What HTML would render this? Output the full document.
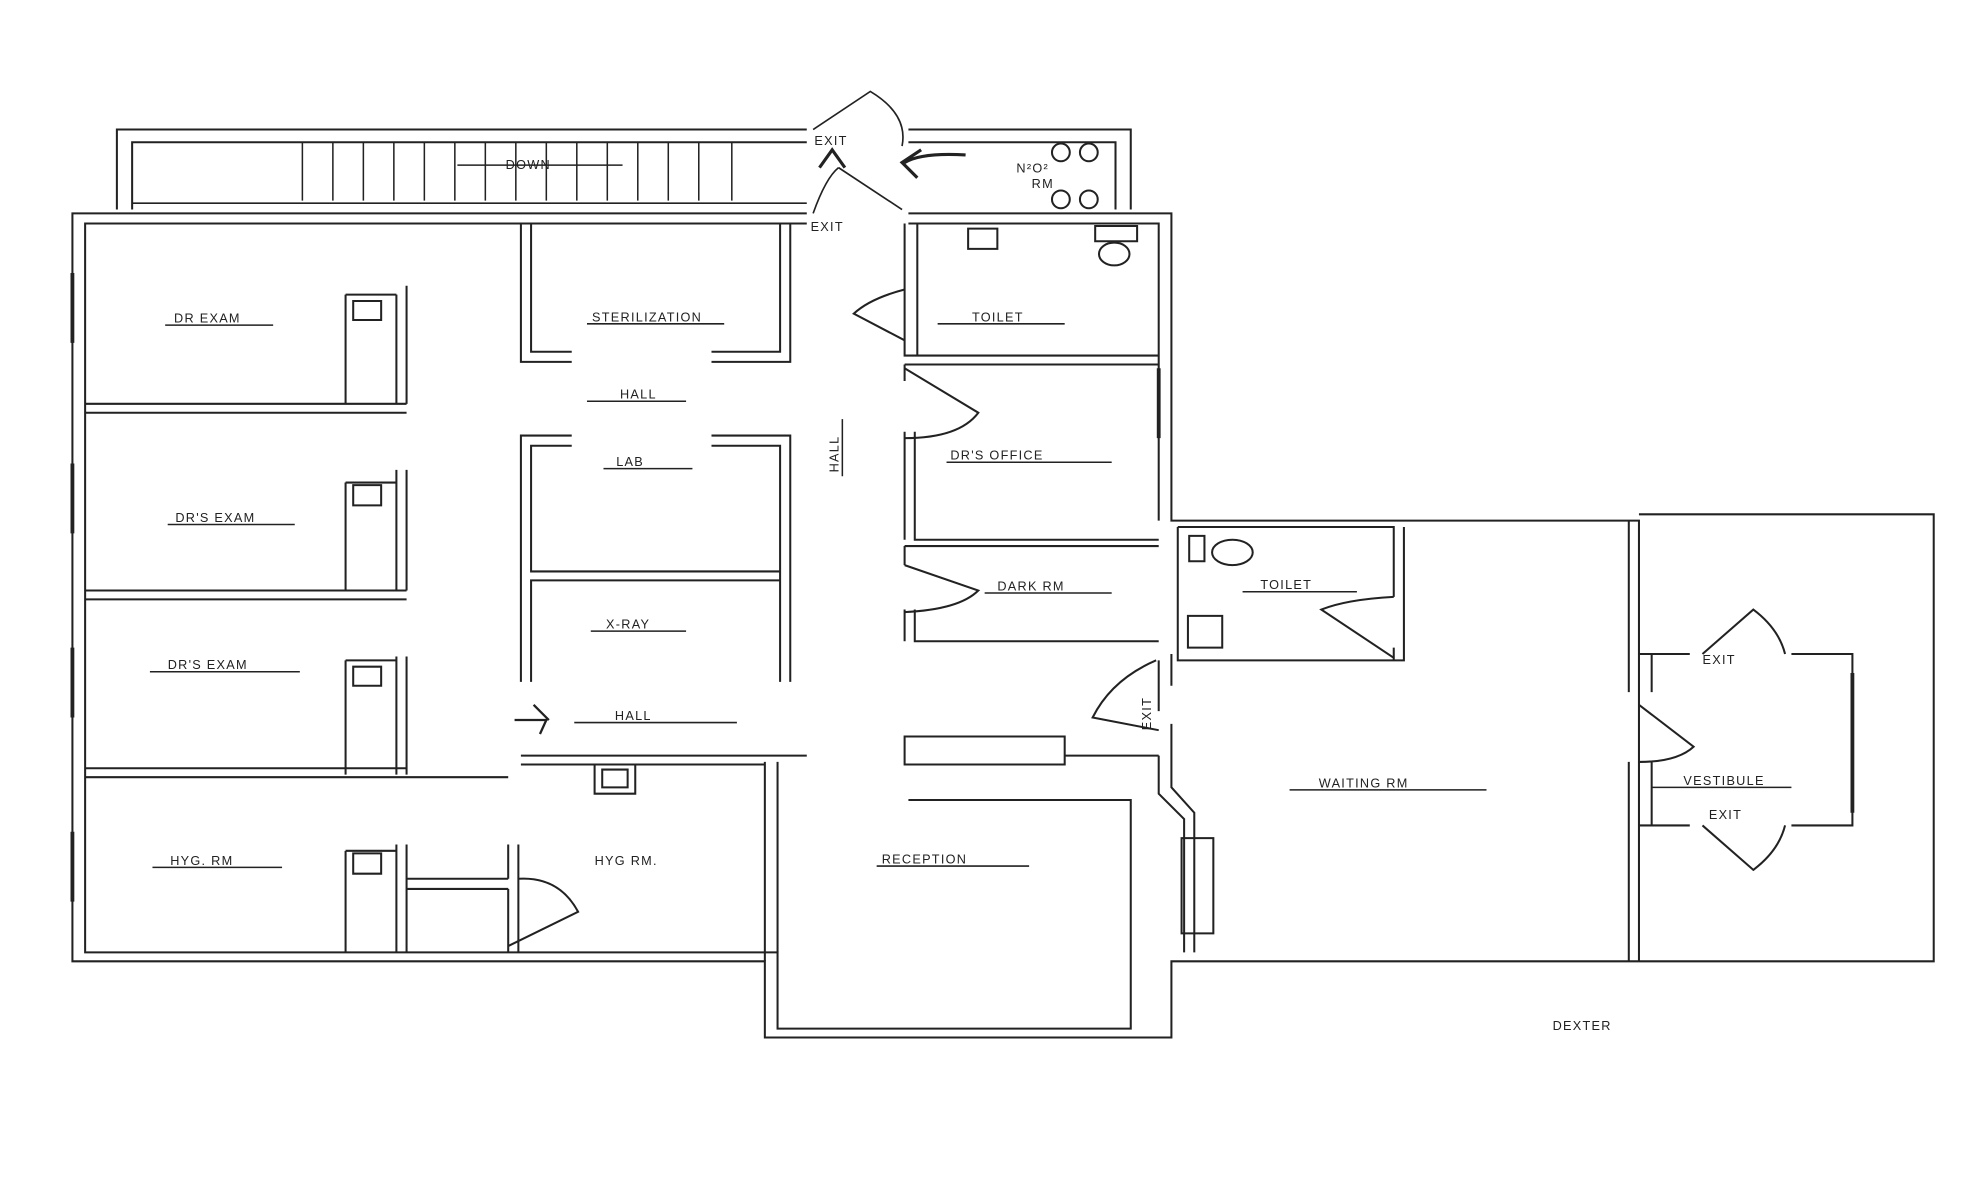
<!DOCTYPE html>
<html><head><meta charset="utf-8"><style>
html,body{margin:0;padding:0;background:#fff;width:1982px;height:1181px;overflow:hidden}
svg{display:block}
text{font-family:"Liberation Sans",sans-serif;font-size:10px;fill:#222;letter-spacing:1px}
</style></head><body>
<svg width="1982" height="1181" viewBox="0 0 1560 930" preserveAspectRatio="none" xmlns="http://www.w3.org/2000/svg">
<g fill="none" stroke="#222" stroke-width="1.6">
<!-- stair block -->
<path d="M635 102 H92 V165 M104 165 V112 H635 M715 102 H890 V165 M715 112 H878 V165"/>
<g stroke-width="1.2">
<path d="M238 112V158 M262 112V158 M286 112V158 M310 112V158 M334 112V158 M358 112V158 M382 112V158 M406 112V158 M430 112V158 M454 112V158 M478 112V158 M502 112V158 M526 112V158 M550 112V158 M576 112V158"/>
<path d="M104 160 H635 M360 130 H490"/>
</g>
<!-- main outer -->
<path d="M635 168 H57 V757 H602 V817 H922 V757 H1290 M715 168 H922 V410 H1290 V757"/>
<path d="M635 176 H67 V750 H612 V810 H890 V630 H715 M715 176 H912 V410"/>
<path d="M1290 405 H1522 V757 H1290"/>
<!-- left rooms -->
<path d="M67 318 H320 M67 325 H320 M67 465 H320 M67 472 H320 M67 605 H320 M67 612 H400 M320 225 V318 M312 232 V318 M272 232 H312 M272 232 V318 M312 370 V465 M320 370 V465 M272 380 H312 V465 M272 380 V465 M312 517 V610 M320 517 V610 M272 520 V610 M272 520 H312 M312 665 V750 M320 665 V750 M272 670 V750 M272 670 H312"/>
<path d="M320 692 H400 M320 700 H400 M400 665 V692 M408 665 V750 M400 700 V750 M612 600 V750 M602 600 V757"/>
<path d="M410 595 H635 M410 602 H602"/>
<path d="M468 602 V625 H500 V602"/>
<!-- center rooms -->
<path d="M410 176 V285 H450 M418 176 V277 H450 M560 285 H622 V176 M560 277 H614 V176"/>
<path d="M450 343 H410 V537 M450 351 H418 V450 H614 M418 537 V457 H614 M560 343 H622 V537 M560 351 H614 V537"/>
<!-- right column -->
<path d="M712 176 V280 H912 M722 176 V280 M712 287 H912 M712 287 V300 M712 340 V425 M720 340 V425 H912 M712 430 H912 M712 430 V445 M712 480 V505 M720 480 V505 H912"/>
<path d="M712 580 H838 V602 H712 Z M838 595 H912"/>
<!-- waiting toilet -->
<path d="M927 415 H1097 V470 M1105 415 V520 H927 V415 M1097 510 V520 M922 515 V540 M912 520 V560 M922 570 V620 L940 640 V750 M912 595 V625 L932 645 V750 M930 660 H955 V735 H930 Z"/>
<path d="M1282 410 V545 M1282 600 V757 M1290 515 H1330 M1300 515 V545 M1300 600 V650 M1290 650 H1330 M1410 515 H1458 V650 H1410"/>
<!-- doors -->
<path d="M640 102 L685 72 Q715 90 710 115 M640 168 Q650 140 660 132 M660 132 L710 165" stroke-width="1.3"/>
<path d="M712 228 Q685 235 672 247 L712 268"/>
<path d="M712 290 L770 325 Q755 345 712 345"/>
<path d="M712 445 L770 465 Q755 480 712 482"/>
<path d="M910 520 Q875 535 860 565 L912 575"/>
<path d="M400 745 L455 718 Q440 690 408 692"/>
<path d="M1097 470 Q1060 472 1040 480 L1097 518"/>
<path d="M1290 555 L1333 588 Q1320 600 1290 600"/>
<path d="M1340 515 L1380 480 Q1400 495 1405 515 M1340 650 L1380 685 Q1400 670 1405 650"/>
<path d="M1458 530 V640" stroke-width="3"/>
<path d="M57 215 V270 M57 365 V420 M57 510 V565 M57 655 V710 M912 290 V345" stroke-width="3"/>
<!-- fixtures -->
<path d="M278 237 H300 V252 H278 Z M278 382 H300 V398 H278 Z M278 525 H300 V540 H278 Z M278 672 H300 V688 H278 Z M474 606 H494 V620 H474 Z M762 180 H785 V196 H762 Z M935 485 H962 V510 H935 Z M936 422 H948 V442 H936 Z M862 178 H895 V190 H862 Z"/>
<ellipse cx="877" cy="200" rx="12" ry="9"/><ellipse cx="970" cy="435" rx="16" ry="10"/>
<circle cx="835" cy="120" r="7"/><circle cx="857" cy="120" r="7"/><circle cx="835" cy="157" r="7"/><circle cx="857" cy="157" r="7"/>
<path d="M645 132 L655 118 L665 132 M712 128 Q725 120 760 122 M725 118 L710 128 L722 140" stroke-width="2.5"/>
<path d="M405 567 H430 L425 578 M420 555 L432 567" stroke-width="1.8"/>
<!-- label underlines -->
<g stroke-width="1.2"><path d="M130 256 H215 M132 413 H232 M118 529 H236 M120 683 H222 M462 255 H570 M462 316 H540 M475 369 H545 M465 497 H540 M452 569 H580 M738 255 H838 M745 364 H875 M775 467 H875 M978 466 H1068 M1015 622 H1170 M690 682 H810 M1300 620 H1410 M663 330 V375"/></g>
</g>
<g>
<text x="398" y="133" font-size="9" letter-spacing="6">DOWN</text>
<text x="641" y="114" font-size="11">EXIT</text>
<text x="638" y="182" font-size="11">EXIT</text>
<text x="800" y="136" font-size="9">N²O²</text><text x="812" y="148" font-size="9">RM</text>
<text x="137" y="254" font-size="9">DR EXAM</text>
<text x="138" y="411" font-size="9">DR'S EXAM</text>
<text x="132" y="527" font-size="9">DR'S EXAM</text>
<text x="134" y="681" font-size="9">HYG. RM</text>
<text x="468" y="681" font-size="9">HYG RM.</text>
<text x="466" y="253" font-size="8">STERILIZATION</text>
<text x="488" y="314" font-size="9">HALL</text>
<text x="485" y="367" font-size="9">LAB</text>
<text x="477" y="495" font-size="9">X-RAY</text>
<text x="484" y="567" font-size="9">HALL</text>
<text x="765" y="253" font-size="9">TOILET</text>
<text x="748" y="362" font-size="9">DR'S OFFICE</text>
<text x="785" y="465" font-size="9">DARK RM</text>
<text x="992" y="464" font-size="9">TOILET</text>
<text x="1038" y="620" font-size="9">WAITING RM</text>
<text x="694" y="680" font-size="9">RECEPTION</text>
<text x="1325" y="618" font-size="8">VESTIBULE</text>
<text x="1340" y="523" font-size="9">EXIT</text>
<text x="1345" y="645" font-size="9">EXIT</text>
<text x="1222" y="811" font-size="9">DEXTER</text>
<text transform="translate(660 372) rotate(-90)" font-size="9">HALL</text>
<text transform="translate(906 575) rotate(-90)" font-size="8">EXIT</text>
</g>
</svg>
</body></html>
